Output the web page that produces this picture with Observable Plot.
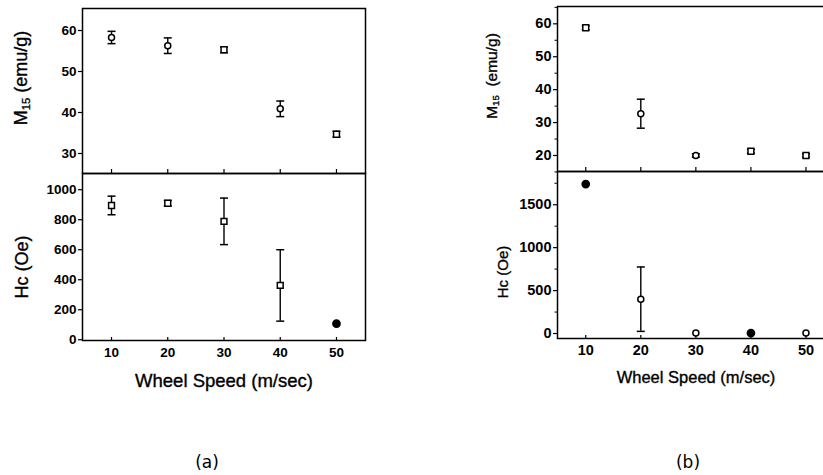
<!DOCTYPE html>
<html>
<head>
<meta charset="utf-8">
<script src="https://cdn.jsdelivr.net/npm/d3@7"></script>
<script src="https://cdn.jsdelivr.net/npm/@observablehq/plot@0.6"></script>
<style>
  html, body { margin: 0; padding: 0; background: #fff; }
  #root { position: relative; width: 823px; height: 475px; overflow: hidden; font-family: "Liberation Sans", Arial, sans-serif; color: #000; }
  #root svg text { font-family: "Liberation Sans", Arial, sans-serif; font-weight: bold; fill: #000; }
  .title { position: absolute; white-space: nowrap; transform: translate(-50%, -50%); line-height: 1; font-family: "Liberation Sans", Arial, sans-serif; -webkit-text-stroke: 0.35px #000; }
  .rot { transform: translate(-50%, -50%) rotate(-90deg); }
  sub { font-size: 62%; vertical-align: -0.25em; }
</style>
</head>
<body>
<div id="root"></div>
<script>
// ---- data ----
const speeds = [10, 20, 30, 40, 50];
const xTicks = [10, 20, 30, 40, 50];

// panel (a)
const aM15 = [58.3, 56.3, 55.3, 40.9, 34.7];
const aM15Err = [1.5, 1.9, 0.7, 1.9, 0.7];
const aM15Marker = ["circle", "circle", "square", "circle", "square"];
const aHc = [895, 910, 789, 362, 107];
const aHcErr = [62, 18, 155, 238, 0];
const aHcMarker = ["square", "square", "square", "square", "filled"];
const aM15Ticks = [30, 40, 50, 60];
const aHcTicks = [0, 200, 400, 600, 800, 1000];

// panel (b)
const bM15 = [58.8, 32.7, 20.0, 21.3, 20.0];
const bM15Err = [0.6, 4.4, 0.5, 0.6, 0.5];
const bM15Marker = ["square", "circle", "circle", "square", "square"];
const bHc = [1740, 400, 5, 5, 5];
const bHcErr = [0, 375, 0, 0, 0];
const bHcMarker = ["filled", "circle", "circle", "filled", "circle"];
const bM15Ticks = [20, 30, 40, 50, 60];
const bM15Minor = [15, 25, 35, 45, 55, 65];
const bHcTicks = [0, 500, 1000, 1500];
const bHcMinor = [250, 750, 1250, 1750];

const FONT = "'Liberation Sans', Arial, sans-serif";
const fmt = d3.format("d");

const rows = (ys, es, ms) => speeds.map((x, i) => ({x, y: ys[i], e: es[i], m: ms[i]}));

const cap = { draw(ctx) { ctx.moveTo(-4, 0); ctx.lineTo(4, 0); } };

function pointMarks(data) {
  const withErr = data.filter(d => d.e > 0);
  return [
    Plot.ruleX(withErr, {x: "x", y1: d => d.y - d.e, y2: d => d.y + d.e, stroke: "#000", strokeWidth: 1.4}),
    Plot.dot(withErr, {x: "x", y: d => d.y + d.e, symbol: cap, stroke: "#000", strokeWidth: 1.5, r: 4}),
    Plot.dot(withErr, {x: "x", y: d => d.y - d.e, symbol: cap, stroke: "#000", strokeWidth: 1.5, r: 4}),
    Plot.dot(data.filter(d => d.m === "circle"), {x: "x", y: "y", symbol: "circle", r: 3, fill: "#fff", stroke: "#000", strokeWidth: 1.5}),
    Plot.dot(data.filter(d => d.m === "square"), {x: "x", y: "y", symbol: "square", r: 3.3, fill: "#fff", stroke: "#000", strokeWidth: 1.5}),
    Plot.dot(data.filter(d => d.m === "filled"), {x: "x", y: "y", symbol: "circle", r: 3.6, fill: "#000", stroke: "#000"})
  ];
}

function place(el, left, top) {
  el.style.position = "absolute";
  el.style.left = left + "px";
  el.style.top = top + "px";
  document.getElementById("root").appendChild(el);
}

function panel(cfg) {
  const frameH1 = cfg.top.height;
  const top = Plot.plot({
    width: cfg.width, height: cfg.top.height + cfg.top.marginTop + 1,
    marginLeft: cfg.marginLeft, marginRight: cfg.marginRight, marginTop: cfg.top.marginTop, marginBottom: 1,
    x: {domain: cfg.xDomain, axis: null},
    y: {domain: cfg.top.yDomain},
    style: {fontFamily: FONT, fontSize: cfg.tickFont + "px", fontWeight: "bold", overflow: "visible", background: "transparent"},
    marks: [
      Plot.axisY(cfg.top.ticks, {tickSize: 4, tickPadding: 2, label: null, tickFormat: fmt, strokeWidth: 1.2}),
      ...(cfg.top.minor ? [Plot.axisY(cfg.top.minor, {tickSize: 2.5, tickFormat: () => "", label: null})] : []),
      Plot.tickX(xTicks, {x: d => d, insetTop: frameH1 - 4, stroke: "#000", strokeWidth: 1.2}),
      ...pointMarks(cfg.top.data),
      Plot.frame({stroke: "#000", strokeWidth: 1.5})
    ]
  });
  place(top, cfg.left, cfg.top.svgTop);

  const frameH2 = cfg.bottom.height;
  const bottom = Plot.plot({
    width: cfg.width, height: cfg.bottom.height + 24,
    marginLeft: cfg.marginLeft, marginRight: cfg.marginRight, marginTop: 0, marginBottom: 24,
    x: {domain: cfg.xDomain},
    y: {domain: cfg.bottom.yDomain},
    style: {fontFamily: FONT, fontSize: cfg.tickFont + "px", fontWeight: "bold", overflow: "visible", background: "transparent"},
    marks: [
      Plot.axisY(cfg.bottom.ticks, {tickSize: 4, tickPadding: 2, label: null, tickFormat: fmt, strokeWidth: 1.2}),
      ...(cfg.bottom.minor ? [Plot.axisY(cfg.bottom.minor, {tickSize: 2.5, tickFormat: () => "", label: null})] : []),
      Plot.axisX(xTicks, {tickSize: 0, tickPadding: cfg.xLabelPad, label: null, tickFormat: fmt}),
      Plot.tickX(xTicks, {x: d => d, insetTop: frameH2 - 3, stroke: "#000", strokeWidth: 1.2}),
      ...pointMarks(cfg.bottom.data),
      Plot.frame({stroke: "#000", strokeWidth: 1.5})
    ]
  });
  place(bottom, cfg.left, cfg.bottom.svgTop);
}

// panel (a): frame x 82..365, top plot y 8..173, bottom y 173..340
panel({
  left: 0, width: 380, marginLeft: 82, marginRight: 15,
  xDomain: [4.84, 55.16], tickFont: 13.5, xLabelPad: 7,
  top: {svgTop: 0, marginTop: 8, height: 165, yDomain: [25.12, 65.37], ticks: aM15Ticks, data: rows(aM15, aM15Err, aM15Marker)},
  bottom: {svgTop: 173, height: 167, yDomain: [-5, 1108], ticks: aHcTicks, data: rows(aHc, aHcErr, aHcMarker)}
});

// panel (b): frame x 557..833 (cut at page edge), top plot y 6..171, bottom y 171..338
panel({
  left: 440, width: 403, marginLeft: 117, marginRight: 10,
  xDomain: [4.87, 55], tickFont: 14.5, xLabelPad: 6,
  top: {svgTop: 0, marginTop: 6, height: 165, yDomain: [15.14, 65.26], ticks: bM15Ticks, minor: bM15Minor, data: rows(bM15, bM15Err, bM15Marker)},
  bottom: {svgTop: 171, height: 167, yDomain: [-58, 1887], ticks: bHcTicks, minor: bHcMinor, data: rows(bHc, bHcErr, bHcMarker)}
});

// titles (real text)
const root = document.getElementById("root");
function addTitle(html, x, y, size, rotate, extra) {
  const d = document.createElement("div");
  d.className = "title" + (rotate ? " rot" : "");
  d.style.left = x + "px";
  d.style.top = y + "px";
  d.style.fontSize = size + "px";
  if (extra) Object.assign(d.style, extra);
  d.innerHTML = html;
  root.appendChild(d);
}
addTitle("M<sub>15</sub> (emu/g)", 22, 78, 18, true);
addTitle("Hc (Oe)", 22, 267, 18, true);
addTitle("Wheel Speed (m/sec)", 224, 381, 18.5, false);
addTitle("M<sub>15</sub>&nbsp; (emu/g)", 492, 76, 15.5, true);
addTitle("Hc (Oe)", 502, 272, 15, true);
addTitle("Wheel Speed (m/sec)", 696, 377, 16.5, false);
addTitle("(a)", 207, 462, 17, false, {fontFamily: "'DejaVu Sans', sans-serif", webkitTextStroke: "0"});
addTitle("(b)", 688, 462, 17, false, {fontFamily: "'DejaVu Sans', sans-serif", webkitTextStroke: "0"});
</script>
</body>
</html>
